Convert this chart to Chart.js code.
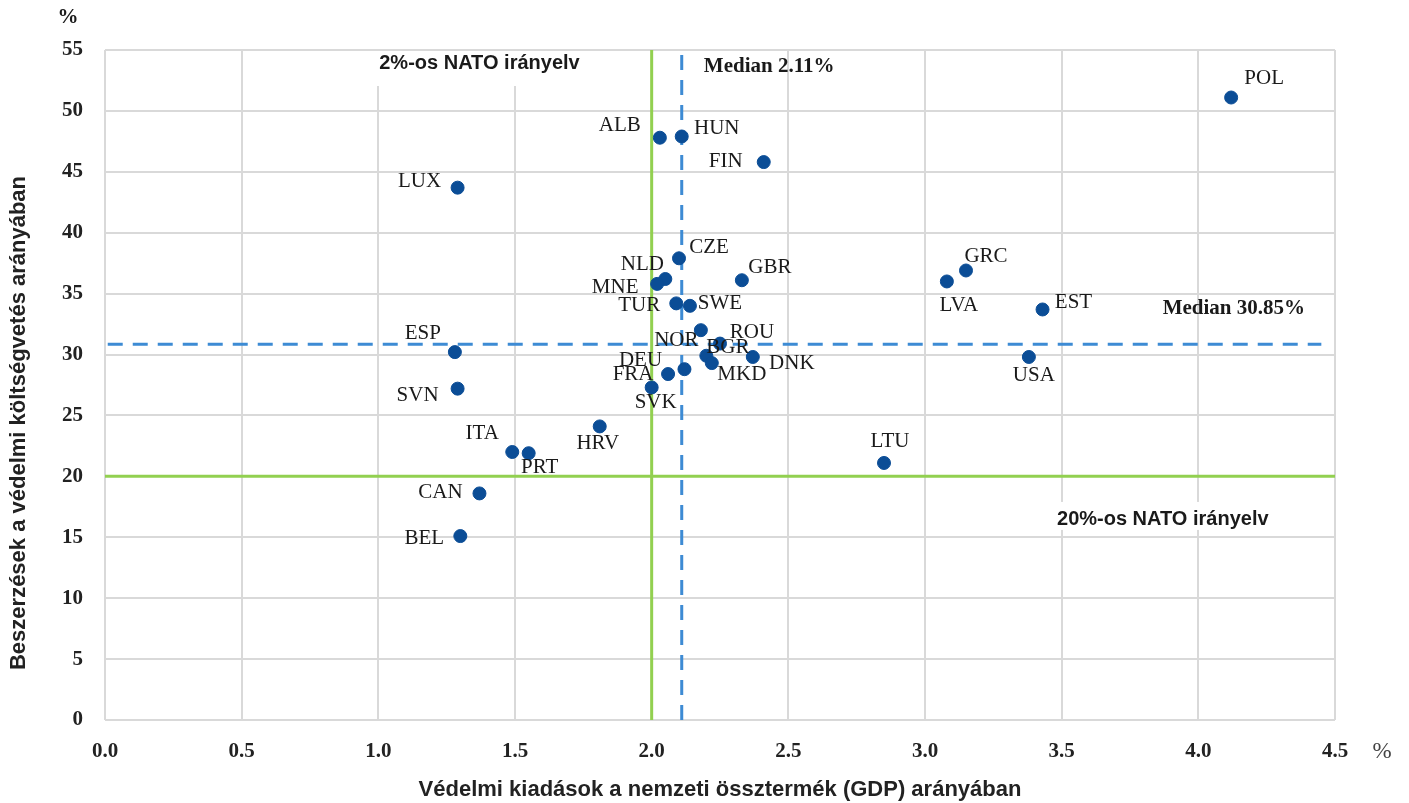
<!DOCTYPE html>
<html>
<head>
<meta charset="utf-8">
<script src="https://cdn.jsdelivr.net/npm/chart.js@4/dist/chart.umd.min.js"></script>
<style>
  html, body { margin: 0; padding: 0; background: #fff; }
  #wrap { width: 1409px; height: 803px; }
</style>
</head>
<body>
<div id="wrap"><canvas id="scatterChart"></canvas></div>
<script>
// NATO countries: defence spending (% of GDP) vs. equipment share (% of defence budget)
const countries = ['POL', 'ALB', 'HUN', 'FIN', 'LUX', 'CZE', 'NLD', 'MNE', 'GBR', 'TUR', 'SWE',
  'GRC', 'LVA', 'EST', 'USA', 'LTU', 'ESP', 'SVN', 'ITA', 'PRT', 'HRV', 'CAN', 'BEL',
  'BGR', 'ROU', 'NOR', 'MKD', 'DNK', 'DEU', 'FRA', 'SVK'];
const gdpShare = [4.12, 2.03, 2.11, 2.41, 1.29, 2.10, 2.05, 2.02, 2.33, 2.09, 2.14,
  3.15, 3.08, 3.43, 3.38, 2.85, 1.28, 1.29, 1.49, 1.55, 1.81, 1.37, 1.30,
  2.18, 2.25, 2.20, 2.22, 2.37, 2.12, 2.06, 2.00];
const equipmentShare = [51.1, 47.8, 47.9, 45.8, 43.7, 37.9, 36.2, 35.8, 36.1, 34.2, 34.0,
  36.9, 36.0, 33.7, 29.8, 21.1, 30.2, 27.2, 22.0, 21.9, 24.1, 18.6, 15.1,
  32.0, 30.9, 29.9, 29.3, 29.8, 28.8, 28.4, 27.3];

const gdpMedian = 2.11;
const equipmentMedian = 30.85;
const natoGdpTarget = 2.0;
const natoEquipmentTarget = 20;

const xTicks = [0, 0.5, 1.0, 1.5, 2.0, 2.5, 3.0, 3.5, 4.0, 4.5];
const yTicks = [0, 5, 10, 15, 20, 25, 30, 35, 40, 45, 50, 55];

// where each country label sits relative to its dot (px)
const labelOffsets = [[33, -19], [-40, -12], [35, -8], [-38, -1], [-38, -6], [30, -11], [-23, -15],
  [-42, 4], [28, -13], [-37, 2], [30, -2], [20, -14], [12, 24], [31, -7], [5, 19], [6, -21],
  [-32, -19], [-40, 7], [-30, -19], [11, 14], [-2, 17], [-39, -1], [-36, 2],
  [27, 17], [32, -11], [-30, -15], [30, 11], [39, 7], [-44, -9], [-35, 0], [4, 15]];

const BLUE = '#3d8bd4';
const GREEN = '#92d050';
const DOT = '#0b4d96';
const SANS = '"Liberation Sans Narrow", "Liberation Sans", sans-serif';
const SERIF = '"Liberation Serif", serif';

const points = gdpShare.map((x, i) => ({ x, y: equipmentShare[i] }));

const annotations = {
  id: 'annotations',
  beforeDatasetsDraw(chart) {
    const { ctx } = chart;
    const xs = chart.scales.x, ys = chart.scales.y;
    ctx.save();
    ctx.fillStyle = '#fff';
    // white boxes behind the guideline captions
    ctx.fillRect(xs.getPixelForValue(0.72), ys.getPixelForValue(55) + 1, xs.getPixelForValue(1.98) - xs.getPixelForValue(0.72), 35);
    ctx.fillRect(xs.getPixelForValue(3.48), ys.getPixelForValue(17.9), xs.getPixelForValue(4.3) - xs.getPixelForValue(3.48), 28);
    ctx.restore();
  },
  afterDatasetsDraw(chart) {
    const { ctx } = chart;
    const xs = chart.scales.x, ys = chart.scales.y;
    const meta = chart.getDatasetMeta(chart.data.datasets.length - 1);
    ctx.save();
    ctx.textAlign = 'center';
    ctx.textBaseline = 'middle';
    ctx.fillStyle = '#1a1a1a';
    ctx.font = '21px ' + SERIF;
    meta.data.forEach((pt, i) => {
      const [dx, dy] = labelOffsets[i];
      ctx.fillText(countries[i], pt.x + dx, pt.y + dy);
    });

    ctx.font = 'bold 21px ' + SERIF;
    ctx.fillText('Median 2.11%', xs.getPixelForValue(2.43), ys.getPixelForValue(53.6));
    ctx.fillText('Median 30.85%', xs.getPixelForValue(4.13), ys.getPixelForValue(33.8));

    ctx.font = 'bold 20px ' + SANS;
    ctx.fillText('2%-os NATO irányelv', xs.getPixelForValue(1.37), ys.getPixelForValue(53.9));
    ctx.fillText('20%-os NATO irányelv', xs.getPixelForValue(3.87), ys.getPixelForValue(16.5));

    ctx.font = 'bold 21px ' + SERIF;
    ctx.fillText('%', 68, 18);
    ctx.font = '23px ' + SERIF;
    ctx.fillStyle = '#444';
    ctx.fillText('%', 1382, 752);

    // y axis title, drawn by hand so it sits where the original has it
    ctx.fillStyle = '#222';
    ctx.font = 'bold 22px ' + SANS;
    ctx.translate(19, 423);
    ctx.rotate(-Math.PI / 2);
    ctx.fillText('Beszerzések a védelmi költségvetés arányában', 0, 0);
    ctx.restore();
  }
};

const refLine = (data, color, dashed, order) => ({
  type: 'line',
  data,
  borderColor: color,
  borderWidth: 3,
  borderDash: dashed ? [15, 10] : [],
  pointRadius: 0,
  fill: false,
  showLine: true,
  order
});

new Chart(document.querySelector('#scatterChart'), {
  type: 'scatter',
  data: {
    datasets: [
      refLine([{ x: natoGdpTarget, y: 0 }, { x: natoGdpTarget, y: 55 }], GREEN, false, 5),
      refLine([{ x: 0, y: natoEquipmentTarget }, { x: 4.5, y: natoEquipmentTarget }], GREEN, false, 4),
      refLine([{ x: gdpMedian, y: 0 }, { x: gdpMedian, y: 55 }], BLUE, true, 3),
      refLine([{ x: 0.01, y: equipmentMedian }, { x: 4.45, y: equipmentMedian }], BLUE, true, 2),
      {
        label: 'Országok',
        data: points,
        backgroundColor: DOT,
        borderColor: DOT,
        pointRadius: 6.5,
        pointHoverRadius: 6.5,
        order: 1
      }
    ]
  },
  options: {
    responsive: true,
    maintainAspectRatio: false,
    animation: false,
    layout: { padding: { top: 50, right: 74, left: 0, bottom: 0 } },
    plugins: {
      legend: { display: false },
      tooltip: { enabled: false }
    },
    scales: {
      x: {
        type: 'linear',
        min: 0,
        max: 4.5,
        afterBuildTicks: scale => { scale.ticks = xTicks.map(value => ({ value })); },
        afterFit: scale => { scale.height = 83; },
        grid: { color: '#d9d9d9', lineWidth: 2, drawTicks: false },
        border: { display: false },
        ticks: {
          padding: 19,
          color: '#222',
          font: { family: SERIF, size: 21, weight: 'bold' },
          callback: v => v.toFixed(1)
        },
        title: {
          display: true,
          text: 'Védelmi kiadások a nemzeti össztermék (GDP) arányában',
          color: '#222',
          font: { family: SANS, size: 22, weight: 'bold' },
          padding: { top: 6, bottom: 0 }
        }
      },
      y: {
        type: 'linear',
        min: 0,
        max: 55,
        afterBuildTicks: scale => { scale.ticks = yTicks.map(value => ({ value })); },
        afterFit: scale => { scale.width = 105; },
        grid: { color: '#d9d9d9', lineWidth: 2, drawTicks: false },
        border: { display: false },
        ticks: {
          padding: 22,
          color: '#222',
          font: { family: SERIF, size: 21, weight: 'bold' }
        },
        title: { display: false }
      }
    }
  },
  plugins: [annotations]
});
</script>
</body>
</html>
